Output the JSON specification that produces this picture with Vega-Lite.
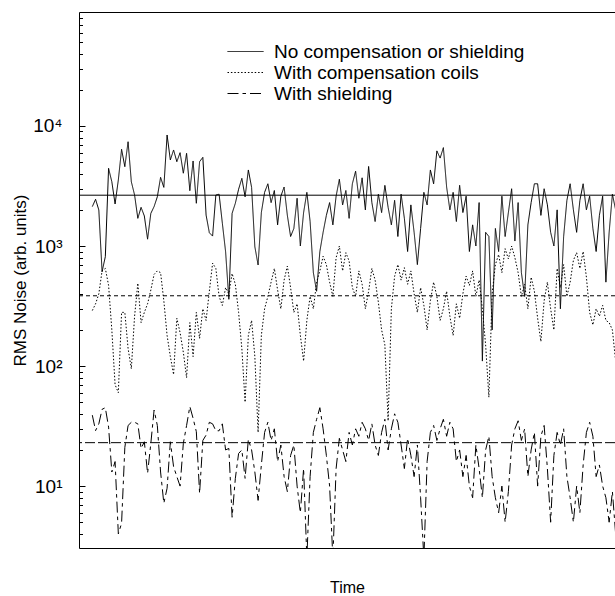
{
"$schema": "https://vega.github.io/schema/vega-lite/v6.json",
"width": 536, "height": 536,
"autosize": {"type": "none"},
"padding": {"left": 79, "top": 12, "right": 0, "bottom": 48},
"background": "white",
"config": {"view": {"stroke": "black", "strokeWidth": 1}, "font": "Liberation Sans", "axis": {"grid": false}},
"datasets": {
"noise": [
{"t":0,"a":2130,"b":290,"c":39},{"t":1,"a":2450,"b":330,"c":29},{"t":2,"a":1995,"b":400,"c":33},{"t":3,"a":611,"b":620,"c":43.6},{"t":4,"a":815,"b":650,"c":45},
{"t":5,"a":4440,"b":470,"c":31},{"t":6,"a":3430,"b":200,"c":13.1},{"t":7,"a":2240,"b":70,"c":16},{"t":8,"a":3550,"b":60,"c":4.0},{"t":9,"a":6390,"b":280,"c":4.9},
{"t":10,"a":4580,"b":280,"c":21},{"t":11,"a":7390,"b":140,"c":32},{"t":12,"a":3430,"b":95,"c":34},{"t":13,"a":2660,"b":260,"c":34},{"t":14,"a":1700,"b":490,"c":33},
{"t":15,"a":2100,"b":230,"c":20.6},{"t":16,"a":1780,"b":280,"c":23.4},{"t":17,"a":1140,"b":330,"c":12.8},{"t":18,"a":1870,"b":430,"c":22.7},{"t":19,"a":2130,"b":580,"c":43},
{"t":20,"a":2570,"b":620,"c":32},{"t":21,"a":3730,"b":600,"c":13.1},{"t":22,"a":3080,"b":350,"c":7.2},{"t":23,"a":8410,"b":180,"c":9.6},{"t":24,"a":5210,"b":120,"c":23.4},
{"t":25,"a":6310,"b":85,"c":14.5},{"t":26,"a":5040,"b":250,"c":12},{"t":27,"a":5990,"b":190,"c":10},{"t":28,"a":4040,"b":130,"c":22.7},{"t":29,"a":5920,"b":80,"c":32},
{"t":30,"a":2890,"b":230,"c":46},{"t":31,"a":5110,"b":120,"c":36.7},{"t":32,"a":2270,"b":280,"c":28.4},{"t":33,"a":5040,"b":170,"c":8.7},{"t":34,"a":5480,"b":300,"c":24},
{"t":35,"a":1810,"b":240,"c":26.6},{"t":36,"a":1290,"b":420,"c":34},{"t":37,"a":1210,"b":720,"c":33},{"t":38,"a":2660,"b":650,"c":28.9},{"t":39,"a":2700,"b":380,"c":28.9},
{"t":40,"a":1550,"b":320,"c":33},{"t":41,"a":897,"b":450,"c":20},{"t":42,"a":360,"b":400,"c":20.6},{"t":43,"a":1870,"b":590,"c":5.5},{"t":44,"a":2270,"b":480,"c":11.6},
{"t":45,"a":2970,"b":280,"c":18.7},{"t":46,"a":3660,"b":140,"c":20},{"t":47,"a":2570,"b":50,"c":11.6},{"t":48,"a":4300,"b":180,"c":24.5},{"t":49,"a":3080,"b":240,"c":20},
{"t":50,"a":986,"b":120,"c":13.1},{"t":51,"a":695,"b":28,"c":7.6},{"t":52,"a":1900,"b":180,"c":15},{"t":53,"a":2800,"b":300,"c":28},{"t":54,"a":3300,"b":380,"c":34},
{"t":55,"a":2300,"b":500,"c":24},{"t":56,"a":2900,"b":650,"c":30},{"t":57,"a":1500,"b":430,"c":16},{"t":58,"a":2600,"b":300,"c":22},{"t":59,"a":3100,"b":520,"c":12},
{"t":60,"a":1800,"b":680,"c":9},{"t":61,"a":1200,"b":450,"c":18},{"t":62,"a":1400,"b":280,"c":22},{"t":63,"a":2500,"b":330,"c":10},{"t":64,"a":1000,"b":180,"c":6},
{"t":65,"a":1900,"b":110,"c":14},{"t":66,"a":2800,"b":240,"c":2.5},{"t":67,"a":1600,"b":380,"c":12},{"t":68,"a":600,"b":300,"c":28},{"t":69,"a":420,"b":500,"c":36},
{"t":70,"a":900,"b":620,"c":45},{"t":71,"a":1300,"b":820,"c":30},{"t":72,"a":1800,"b":700,"c":18},{"t":73,"a":2300,"b":500,"c":10},{"t":74,"a":1500,"b":380,"c":2.5},
{"t":75,"a":2600,"b":800,"c":14},{"t":76,"a":3600,"b":1000,"c":25},{"t":77,"a":2200,"b":620,"c":20},{"t":78,"a":2900,"b":880,"c":16},{"t":79,"a":1700,"b":750,"c":28},
{"t":80,"a":3300,"b":450,"c":22},{"t":81,"a":4200,"b":380,"c":30},{"t":82,"a":2500,"b":620,"c":26},{"t":83,"a":3700,"b":480,"c":34},{"t":84,"a":2000,"b":300,"c":30},
{"t":85,"a":4600,"b":420,"c":24},{"t":86,"a":2300,"b":650,"c":33},{"t":87,"a":1600,"b":520,"c":22},{"t":88,"a":2700,"b":340,"c":18},{"t":89,"a":1900,"b":200,"c":28},
{"t":90,"a":3200,"b":150,"c":36},{"t":91,"a":2100,"b":35,"c":20},{"t":92,"a":1500,"b":300,"c":30},{"t":93,"a":2400,"b":560,"c":40},{"t":94,"a":1200,"b":700,"c":34},
{"t":95,"a":2700,"b":520,"c":22},{"t":96,"a":1700,"b":660,"c":14},{"t":97,"a":900,"b":480,"c":25},{"t":98,"a":2200,"b":620,"c":18},{"t":99,"a":1300,"b":400,"c":12},
{"t":100,"a":700,"b":280,"c":22},{"t":101,"a":1400,"b":450,"c":8},{"t":102,"a":2800,"b":320,"c":2.5},{"t":103,"a":2200,"b":200,"c":16},{"t":104,"a":4300,"b":350,"c":28},
{"t":105,"a":3300,"b":500,"c":32},{"t":106,"a":6200,"b":380,"c":24},{"t":107,"a":5400,"b":240,"c":30},{"t":108,"a":6600,"b":300,"c":36},{"t":109,"a":3100,"b":420,"c":26},
{"t":110,"a":2000,"b":260,"c":34},{"t":111,"a":2800,"b":180,"c":30},{"t":112,"a":1600,"b":330,"c":16},{"t":113,"a":3200,"b":250,"c":20},{"t":114,"a":1900,"b":400,"c":12},
{"t":115,"a":2600,"b":560,"c":18},{"t":116,"a":900,"b":470,"c":10},{"t":117,"a":1500,"b":620,"c":8},{"t":118,"a":1000,"b":380,"c":22},{"t":119,"a":2300,"b":520,"c":14},
{"t":120,"a":110,"b":300,"c":8},{"t":121,"a":1300,"b":150,"c":20},{"t":122,"a":1200,"b":55,"c":26},{"t":123,"a":200,"b":400,"c":12},{"t":124,"a":1400,"b":700,"c":8},
{"t":125,"a":900,"b":850,"c":6},{"t":126,"a":2600,"b":600,"c":10},{"t":127,"a":1200,"b":950,"c":5},{"t":128,"a":1900,"b":780,"c":9},{"t":129,"a":3000,"b":1000,"c":22},
{"t":130,"a":1100,"b":800,"c":30},{"t":131,"a":2300,"b":600,"c":35},{"t":132,"a":600,"b":380,"c":24},{"t":133,"a":380,"b":480,"c":30},{"t":134,"a":1500,"b":300,"c":12},
{"t":135,"a":2300,"b":550,"c":20},{"t":136,"a":3300,"b":420,"c":28},{"t":137,"a":3300,"b":250,"c":10},{"t":138,"a":1800,"b":160,"c":26},{"t":139,"a":3000,"b":350,"c":32},
{"t":140,"a":2200,"b":500,"c":14},{"t":141,"a":1300,"b":300,"c":5},{"t":142,"a":1000,"b":200,"c":18},{"t":143,"a":2000,"b":650,"c":28},{"t":144,"a":300,"b":450,"c":22},
{"t":145,"a":1200,"b":700,"c":30},{"t":146,"a":2400,"b":380,"c":12},{"t":147,"a":3300,"b":500,"c":8},{"t":148,"a":2000,"b":760,"c":5},{"t":149,"a":1300,"b":880,"c":10},
{"t":150,"a":2400,"b":650,"c":6},{"t":151,"a":3300,"b":900,"c":15},{"t":152,"a":2000,"b":550,"c":28},{"t":153,"a":2600,"b":280,"c":34},{"t":154,"a":1400,"b":220,"c":26},
{"t":155,"a":900,"b":300,"c":12},{"t":156,"a":1800,"b":260,"c":15},{"t":157,"a":2600,"b":320,"c":10},{"t":158,"a":500,"b":240,"c":8},{"t":159,"a":1300,"b":230,"c":5},
{"t":160,"a":2700,"b":200,"c":9},{"t":161,"a":2000,"b":110,"c":4}
],
"means": [{"d":"a2","m":2650},{"d":"b2","m":385},{"d":"c2","m":23}]
},
"layer": [
{
"data": {"name": "noise"},
"transform": [{"fold": ["a","b","c"], "as": ["k","v"]}],
"mark": {"type": "line", "color": "black", "strokeWidth": 1, "clip": true},
"encoding": {
"x": {"field": "t", "type": "quantitative", "scale": {"domain": [-4.1, 160.8], "nice": false, "zero": false},
"axis": {"title": "Time", "labels": false, "ticks": false, "domain": false, "titleFontSize": 16, "titleFontWeight": "normal", "titlePadding": 31, "titleColor": "black"}},
"y": {"field": "v", "type": "quantitative", "scale": {"type": "log", "domain": [3.05, 89000], "nice": false},
"axis": {"values": [10, 100, 1000, 10000], "labelExpr": "datum.value == 10 ? '10¹' : datum.value == 100 ? '10²' : datum.value == 1000 ? '10³' : '10⁴'",
"tickSize": -6, "tickColor": "black", "domain": false, "labelFontSize": 19, "labelColor": "black", "labelPadding": 23,
"title": "RMS Noise (arb. units)", "titleFontSize": 17, "titleFontWeight": "normal", "titleColor": "black", "titlePadding": 3}},
"strokeDash": {"field": "k", "type": "nominal", "scale": {"domain": ["a","b","c"], "range": [[1,0],[1.5,1.9],[11,4,3.5,4]]},
"legend": {"orient": "none", "legendX": 157, "legendY": 30, "padding": 0, "title": null, "symbolType": "M-2,0H2", "symbolSize": 324, "symbolStrokeWidth": 1, "symbolStrokeColor": "black", "symbolFillColor": "transparent",
"labelFontSize": 19, "labelColor": "black", "labelOffset": 19, "rowPadding": 1, "labelLimit": 0,
"labelExpr": "datum.label == 'a' ? 'No compensation or shielding' : datum.label == 'b' ? 'With compensation coils' : 'With shielding'"}}
}
},
{
"data": {"name": "means"},
"mark": {"type": "rule", "color": "black", "strokeWidth": 1},
"encoding": {
"y": {"field": "m", "type": "quantitative",
"axis": {"orient": "left", "values": [4,5,6,7,8,9,20,30,40,50,60,70,80,90,200,300,400,500,600,700,800,900,2000,3000,4000,5000,6000,7000,8000,9000,20000,30000,40000,50000,60000,70000,80000],
"labels": false, "tickSize": -3.5, "tickColor": "black", "domain": false, "title": null}},
"strokeDash": {"field": "d", "type": "nominal", "scale": {"domain": ["a2","b2","c2"], "range": [[1,0],[4,3],[10,3]]}, "legend": null}
}
}
],
"resolve": {"axis": {"y": "independent"}, "scale": {"strokeDash": "independent"}}
}
